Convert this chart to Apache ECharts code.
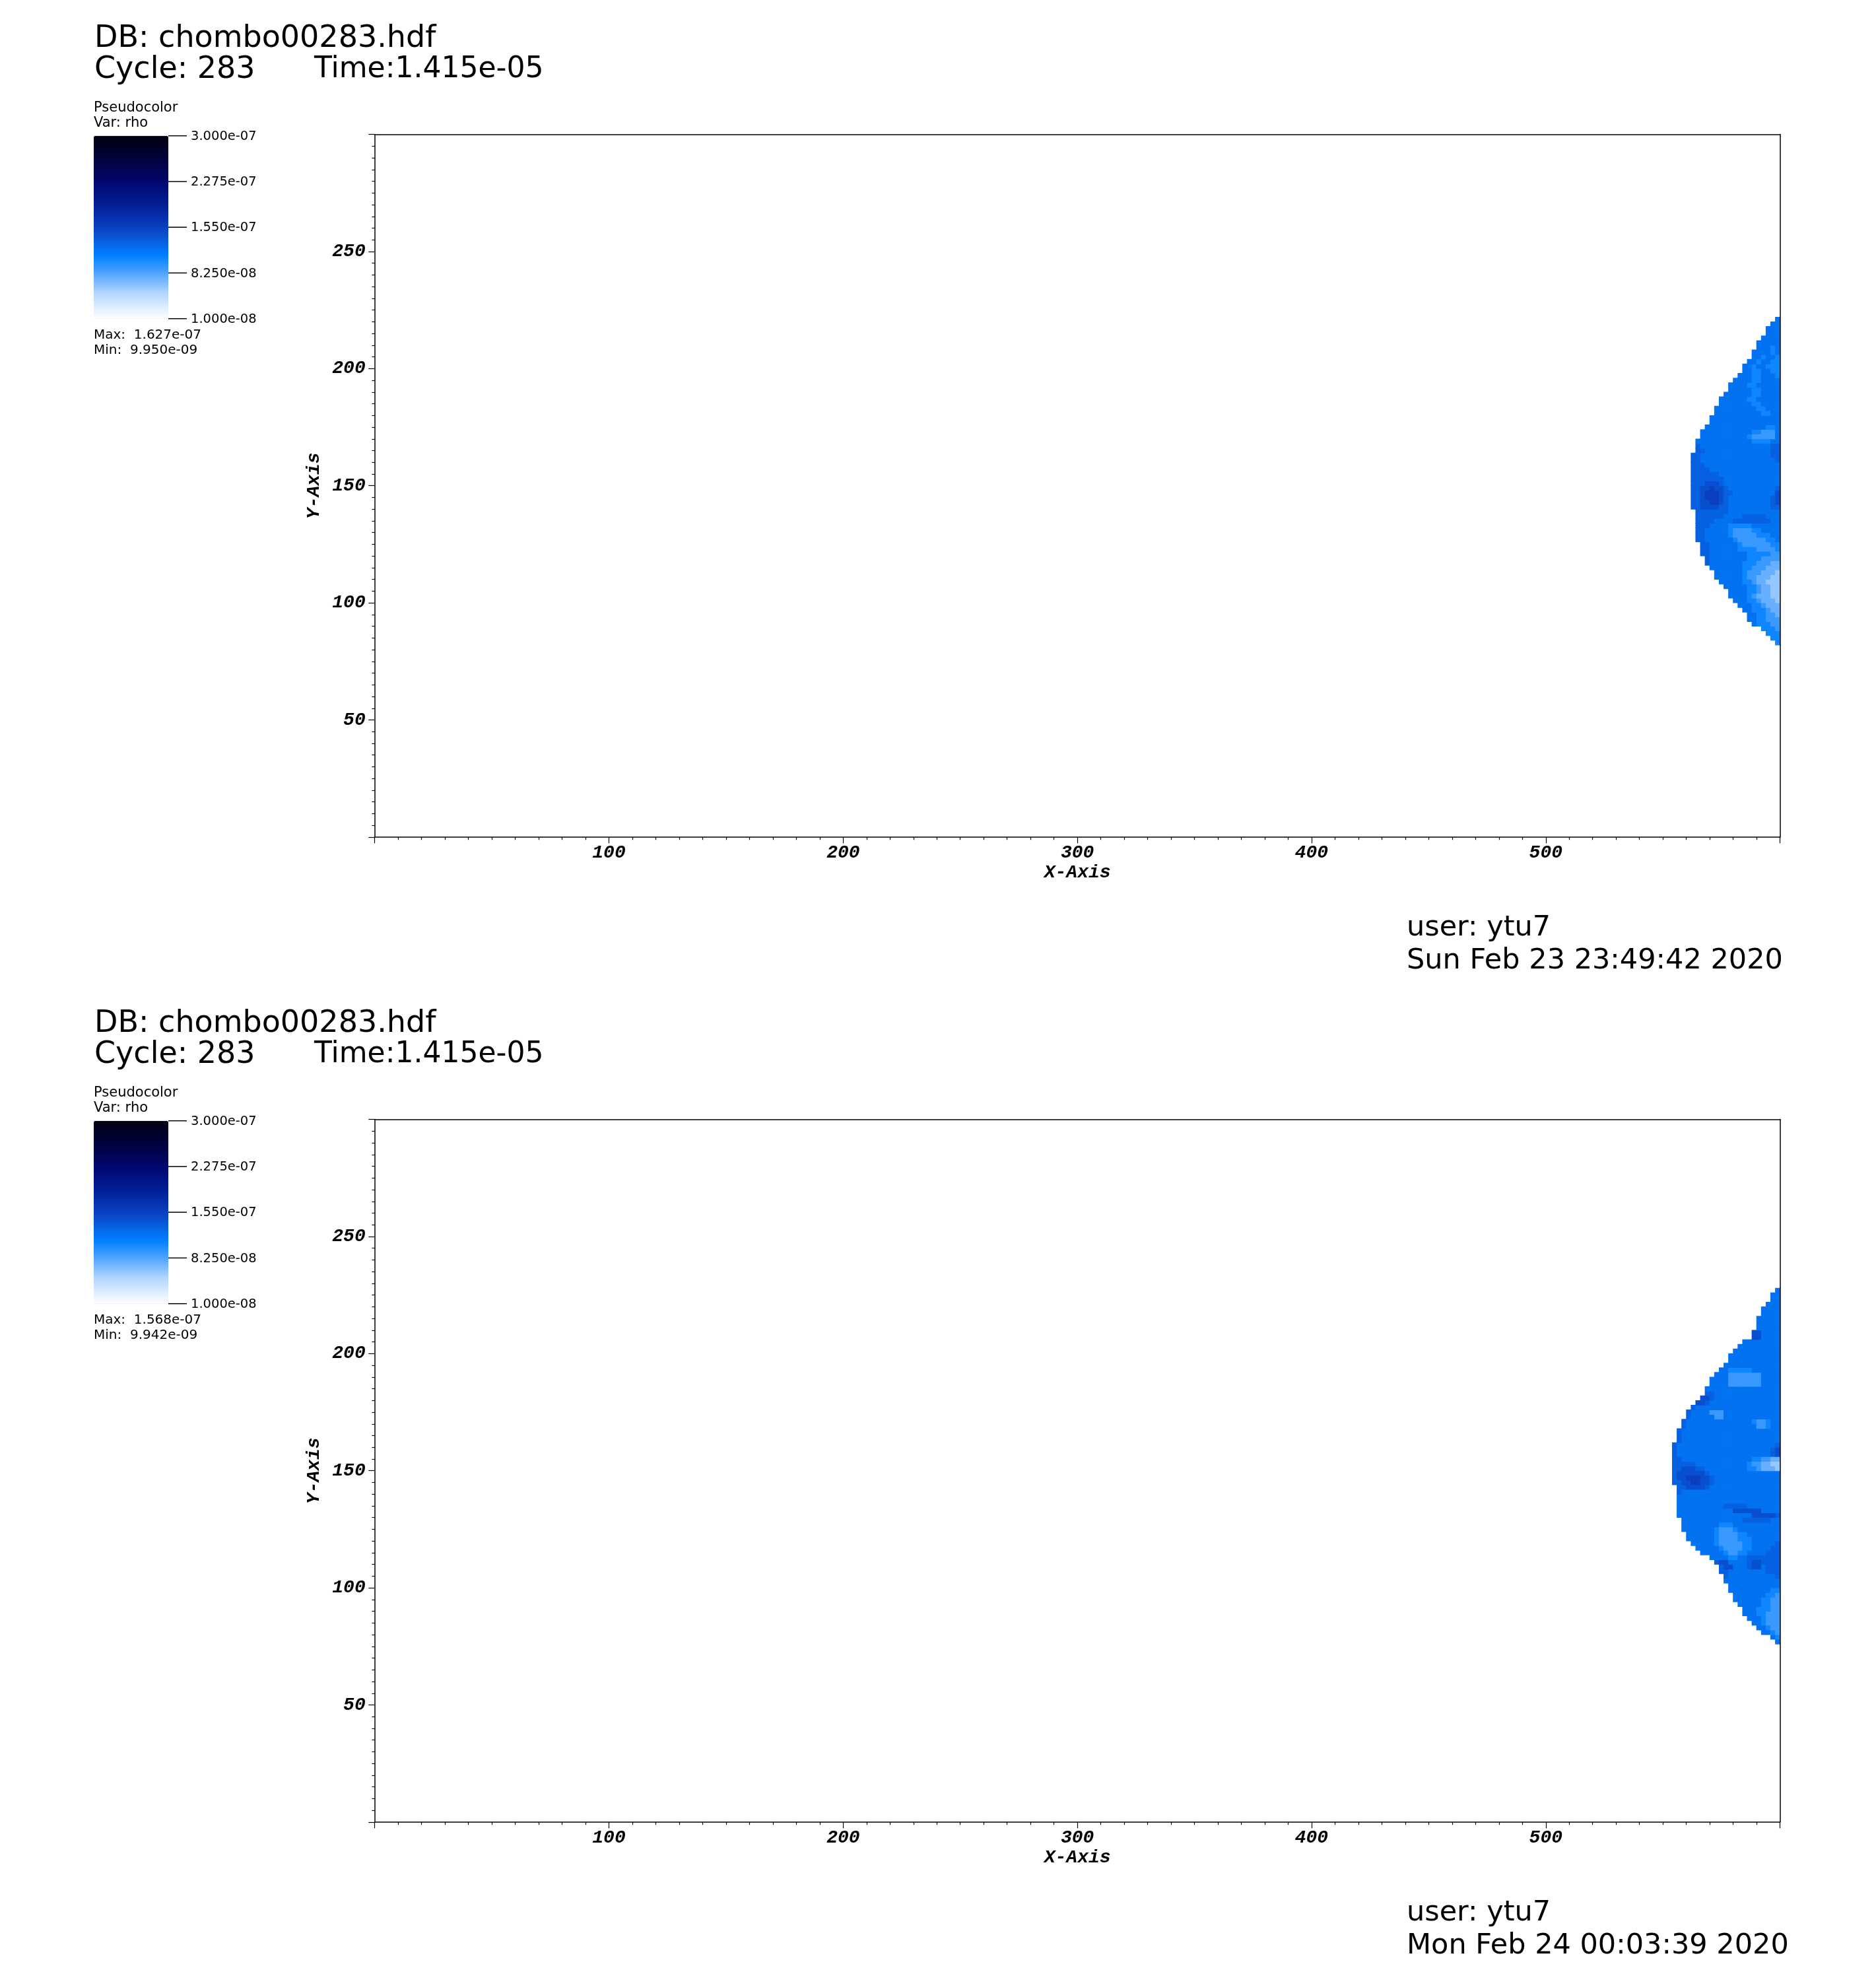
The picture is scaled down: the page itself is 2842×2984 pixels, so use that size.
<!DOCTYPE html>
<html><head><meta charset="utf-8">
<script src="https://cdn.jsdelivr.net/npm/echarts@6/dist/echarts.min.js"></script>
<style>html,body{margin:0;padding:0;background:#fff}#c{width:2842px;height:2984px}</style>
</head><body><div id="c"></div>
<script>
// ---------------- data ----------------
const xRange = [0, 600];
const yRange = [0, 300];
const xTickInterval = 100;
const yTickInterval = 50;
const rhoRange = [1.0e-8, 3.0e-7];
const colorbarTicks = [3.0e-7, 2.275e-7, 1.55e-7, 8.25e-8, 1.0e-8];
const colorbarTickLabels = ["3.000e-07", "2.275e-07", "1.550e-07", "8.250e-08", "1.000e-08"];
const dbNames = ["chombo00283.hdf", "chombo00283.hdf"];
const cycles = ["283", "283"];
const times = ["1.415e-05", "1.415e-05"];
const maxLabels = ["1.627e-07", "1.568e-07"];
const minLabels = ["9.950e-09", "9.942e-09"];
const users = ["ytu7", "ytu7"];
const dates = ["Sun Feb 23 23:49:42 2020", "Mon Feb 24 00:03:39 2020"];
const cellSize = 2;
// rho level per code char
const rhoLevels = {"1":4.5e-8,"2":6.0e-8,"3":7.5e-8,"4":9.0e-8,"5":1.05e-7,"6":1.2e-7,"7":1.32e-7,"8":1.44e-7,"9":1.56e-7};
// rows: [y of cell bottom, codes of cells ending at x = 600]
const topRows = [
[82,"5"],[84,"55"],[86,"555"],[88,"5554"],[90,"655544"],[92,"6655444"],[94,"6655443"],[96,"66555433"],
[98,"666554333"],[100,"6665543332"],[102,"66665433322"],[104,"66665543322"],[106,"666665543322"],
[108,"6666655433222"],[110,"66666654433322"],[112,"66666654443332"],[114,"666666655444333"],
[116,"7666666655544433"],[118,"7666666665554444"],[120,"77666666665555544"],[122,"77666666555544445"],
[124,"77666666544444455"],[126,"776666665444444556"],[128,"776666654444455566"],[130,"776666654444556666"],
[132,"777666655555666666"],[134,"777766667777777766"],[136,"777777666677777666"],[138,"777777766666666666"],
[140,"7788887766666666677"],[142,"7788998766666666678"],[144,"7789998766666666678"],[146,"7789998776666666668"],
[148,"7788988766666666667"],[150,"7778887666666666666"],[152,"7777777666666666666"],[154,"7777776666666666666"],
[156,"7777666666666666666"],[158,"7776666666666666666"],[160,"7766666666666666667"],[162,"7766666666666666677"],
[164,"776666666666666677"],[166,"766666666666666677"],[168,"666666666666555566"],[170,"66666666665444446"],
[172,"66666666666554446"],[174,"6666666666666556"],[176,"666666666666666"],[178,"666666666666666"],
[180,"66666666665566"],[182,"66666666655666"],[184,"6666666556666"],[186,"6666665566666"],
[188,"666666556666"],[190,"66666556666"],[192,"66665566666"],[194,"6666556666"],[196,"666556665"],
[198,"66556655"],[200,"66566555"],[202,"6656655"],[204,"665665"],[206,"666656"],[208,"66656"],
[210,"66666"],[212,"6666"],[214,"666"],[216,"666"],[218,"66"],[220,"6"]
];
const bottomRows = [
[76,"6"],[78,"65"],[80,"6654"],[82,"66544"],[84,"665444"],[86,"6665444"],[88,"66655444"],[90,"66655544"],
[92,"666665544"],[94,"6666665544"],[96,"6666666554"],[98,"66666666655"],[100,"66666666666"],
[102,"666666666666"],[104,"766666666667"],[106,"7766666666777"],[108,"7886667886777"],
[110,"78866667887777"],[112,"666655667777777"],[114,"66666544556666777"],[116,"666665444455666677"],
[118,"6666654444455666667"],[120,"66666654444555666666"],[122,"66666654444556666666"],
[124,"666666654445666666666"],[126,"666666665556666666666"],[128,"666666666666677777766"],
[130,"6666666666666666888887"],[132,"6666666666668888886666"],[134,"6666666666777776666666"],
[136,"6666666666666666666666"],[138,"6666666666666666666666"],[140,"7666666666666666666666"],
[142,"7788887666666666666666"],[144,"77889988766666666666666"],[146,"78899988766666666666666"],
[148,"78888887666666666666666"],[150,"77888776666666665543332"],[152,"77777666666666665443322"],
[154,"77666666666666666554433"],[156,"76666666666666666666678"],[158,"76666666666666666666678"],
[160,"76666666666666666666667"],[162,"7666666666666666666666"],[164,"7666666666666666666666"],
[166,"7666666666666666666666"],[168,"766666666666666644566"],[170,"766666666666666544566"],
[172,"76666644666666666666"],[174,"76666444666666666666"],[176,"7666666666666666666"],
[178,"887666666666666666"],[180,"88766666666666666"],[182,"7766666666666666"],[184,"6666666666666666"],
[186,"666644444446666"],[188,"666644444446666"],[190,"66644444446666"],[192,"6655555666666"],
[194,"666666666666"],[196,"66666666666"],[198,"66666666666"],[200,"6666666666"],[202,"666666666"],
[204,"66666666"],[206,"886666"],[208,"886666"],[210,"66666"],[212,"66666"],[214,"66666"],
[216,"6666"],[218,"6666"],[220,"666"],[222,"66"],[224,"66"],[226,"6"]
];

// ---------------- build ----------------
function buildCells(rows) {
  const out = [];
  rows.forEach(([y, s]) => {
    const n = s.length;
    for (let k = 0; k < n; k++) {
      out.push([xRange[1] - cellSize * n + cellSize * k, y, rhoLevels[s[k]]]);
    }
  });
  return out;
}
const cmapStops = [[0,'#ffffff'],[0.14,'#b3d6ff'],[0.25,'#4fa3ff'],[0.345,'#0080ff'],[0.5,'#0a40c0'],
  [0.62,'#021e96'],[0.75,'#00066e'],[0.875,'#00033c'],[1,'#000010']];
function hex2rgb(h){return [1,3,5].map(i=>parseInt(h.substr(i,2),16));}
function buildCmap(n){
  const res=[];
  for(let i=0;i<n;i++){
    const f=i/(n-1);
    let j=0; while(j<cmapStops.length-2 && cmapStops[j+1][0]<f) j++;
    const [f0,c0]=cmapStops[j],[f1,c1]=cmapStops[j+1];
    const t=Math.min(1,Math.max(0,(f-f0)/(f1-f0)));
    const a=hex2rgb(c0),b=hex2rgb(c1);
    res.push('rgb('+a.map((v,k)=>Math.round(v+(b[k]-v)*t)).join(',')+')');
  }
  return res;
}
const cmap = buildCmap(59);

const panelDY = 1492;
const gridLeft = 567.7, gridTop = 203.6, gridW = 2128.9, gridH = 1064.3;
const barLeft = 142, barTop = 205.7, barW = 113, barH = 277;
const annFont = "'DejaVu Sans'";
const axisFont = "'Liberation Mono'";
const lineStyle = {color:'#000', width:1.5};

const grids=[], xAxes=[], yAxes=[], series=[], visualMaps=[], graphics=[];
const borderX=[], borderY=[];
[topRows, bottomRows].forEach((rows, p) => {
  const dy = p * panelDY;
  grids.push({left:gridLeft, top:gridTop+dy, width:gridW, height:gridH, show:false});
  xAxes.push({gridIndex:p, type:'value', min:xRange[0], max:xRange[1], interval:xTickInterval, position:'bottom', z:5,
    axisLine:{show:true, onZero:false, lineStyle},
    axisTick:{show:true, length:9.4, lineStyle:{color:'#000', width:1.2}},
    minorTick:{show:true, splitNumber:10, length:4.3, lineStyle:{color:'#000', width:1.2}},
    splitLine:{show:false}, minorSplitLine:{show:false},
    axisLabel:{showMinLabel:false, showMaxLabel:false, margin:10, color:'#000', fontFamily:axisFont, fontWeight:'bold', fontStyle:'italic', fontSize:28},
    name:'X-Axis', nameLocation:'middle', nameGap:40,
    nameTextStyle:{color:'#000', fontFamily:axisFont, fontWeight:'bold', fontStyle:'italic', fontSize:28}});
  yAxes.push({gridIndex:p, type:'value', min:yRange[0], max:yRange[1], interval:yTickInterval, position:'left', z:5,
    axisLine:{show:true, onZero:false, lineStyle},
    axisTick:{show:true, length:9.4, lineStyle:{color:'#000', width:1.2}},
    minorTick:{show:true, splitNumber:10, length:4.3, lineStyle:{color:'#000', width:1.2}},
    splitLine:{show:false}, minorSplitLine:{show:false},
    axisLabel:{showMinLabel:false, showMaxLabel:false, margin:14, color:'#000', fontFamily:axisFont, fontWeight:'bold', fontStyle:'italic', fontSize:28},
    name:'Y-Axis', nameLocation:'middle', nameGap:78, nameRotate:90,
    nameTextStyle:{color:'#000', fontFamily:axisFont, fontWeight:'bold', fontStyle:'italic', fontSize:28}});
  borderX.push({gridIndex:p, type:'value', min:xRange[0], max:xRange[1], position:'top', z:5,
    axisLine:{show:true, onZero:false, lineStyle}, axisTick:{show:false}, axisLabel:{show:false}, splitLine:{show:false}});
  borderY.push({gridIndex:p, type:'value', min:yRange[0], max:yRange[1], position:'right', z:5,
    axisLine:{show:true, onZero:false, lineStyle}, axisTick:{show:false}, axisLabel:{show:false}, splitLine:{show:false}});
  series.push({type:'custom', xAxisIndex:p, yAxisIndex:p, clip:true, silent:true, z:2,
    encode:{x:0, y:1}, data:buildCells(rows),
    renderItem:(params, api) => {
      const x = api.value(0), y = api.value(1);
      const a = api.coord([x, y + cellSize]);
      const b = api.coord([x + cellSize, y]);
      return {type:'rect', shape:{x:a[0]-0.4, y:a[1]-0.4, width:b[0]-a[0]+0.8, height:b[1]-a[1]+0.8},
        style:{fill:api.visual('color')}};
    }});
  visualMaps.push({type:'continuous', seriesIndex:p, dimension:2, min:rhoRange[0], max:rhoRange[1],
    calculable:false, hoverLink:false, orient:'vertical', inRange:{color:cmap},
    itemWidth:barW, itemHeight:barH, left:barLeft, top:barTop+dy, padding:0, text:null, showLabel:false});
  const T = (x, y, text, size) => ({type:'text', x, y, silent:true,
    style:{text, fill:'#000', fontFamily:annFont, fontWeight:'normal', fontSize:size, align:'left', verticalAlign:'middle'}});
  graphics.push(T(143, 59+dy, 'DB: ' + dbNames[p], 46));
  graphics.push(T(143, 106+dy, 'Cycle: ' + cycles[p], 46));
  graphics.push(T(476, 106+dy, 'Time:' + times[p], 44));
  graphics.push(T(142, 164+dy, 'Pseudocolor', 21));
  graphics.push(T(142, 187+dy, 'Var: rho', 21));
  colorbarTicks.forEach((v, i) => {
    const ty = barTop + dy + (rhoRange[1] - v) / (rhoRange[1] - rhoRange[0]) * barH;
    graphics.push({type:'line', silent:true, shape:{x1:barLeft+barW, y1:ty, x2:barLeft+barW+28, y2:ty}, style:{stroke:'#000', lineWidth:1.5}});
    graphics.push(T(289, ty+1, colorbarTickLabels[i], 19.5));
  });
  graphics.push(T(142, 508+dy, 'Max:  ' + maxLabels[p], 20));
  graphics.push(T(142, 531+dy, 'Min:  ' + minLabels[p], 20));
  graphics.push(T(2131, 1406+dy, 'user: ' + users[p], 43));
  graphics.push(T(2131, 1456+dy, dates[p], 43));
});

const chart = echarts.init(document.getElementById('c'), null, {renderer:'canvas'});
chart.setOption({
  animation:false, backgroundColor:'#fff',
  grid:grids, xAxis:xAxes.concat(borderX), yAxis:yAxes.concat(borderY),
  visualMap:visualMaps, series, graphic:graphics
});
</script></body></html>
